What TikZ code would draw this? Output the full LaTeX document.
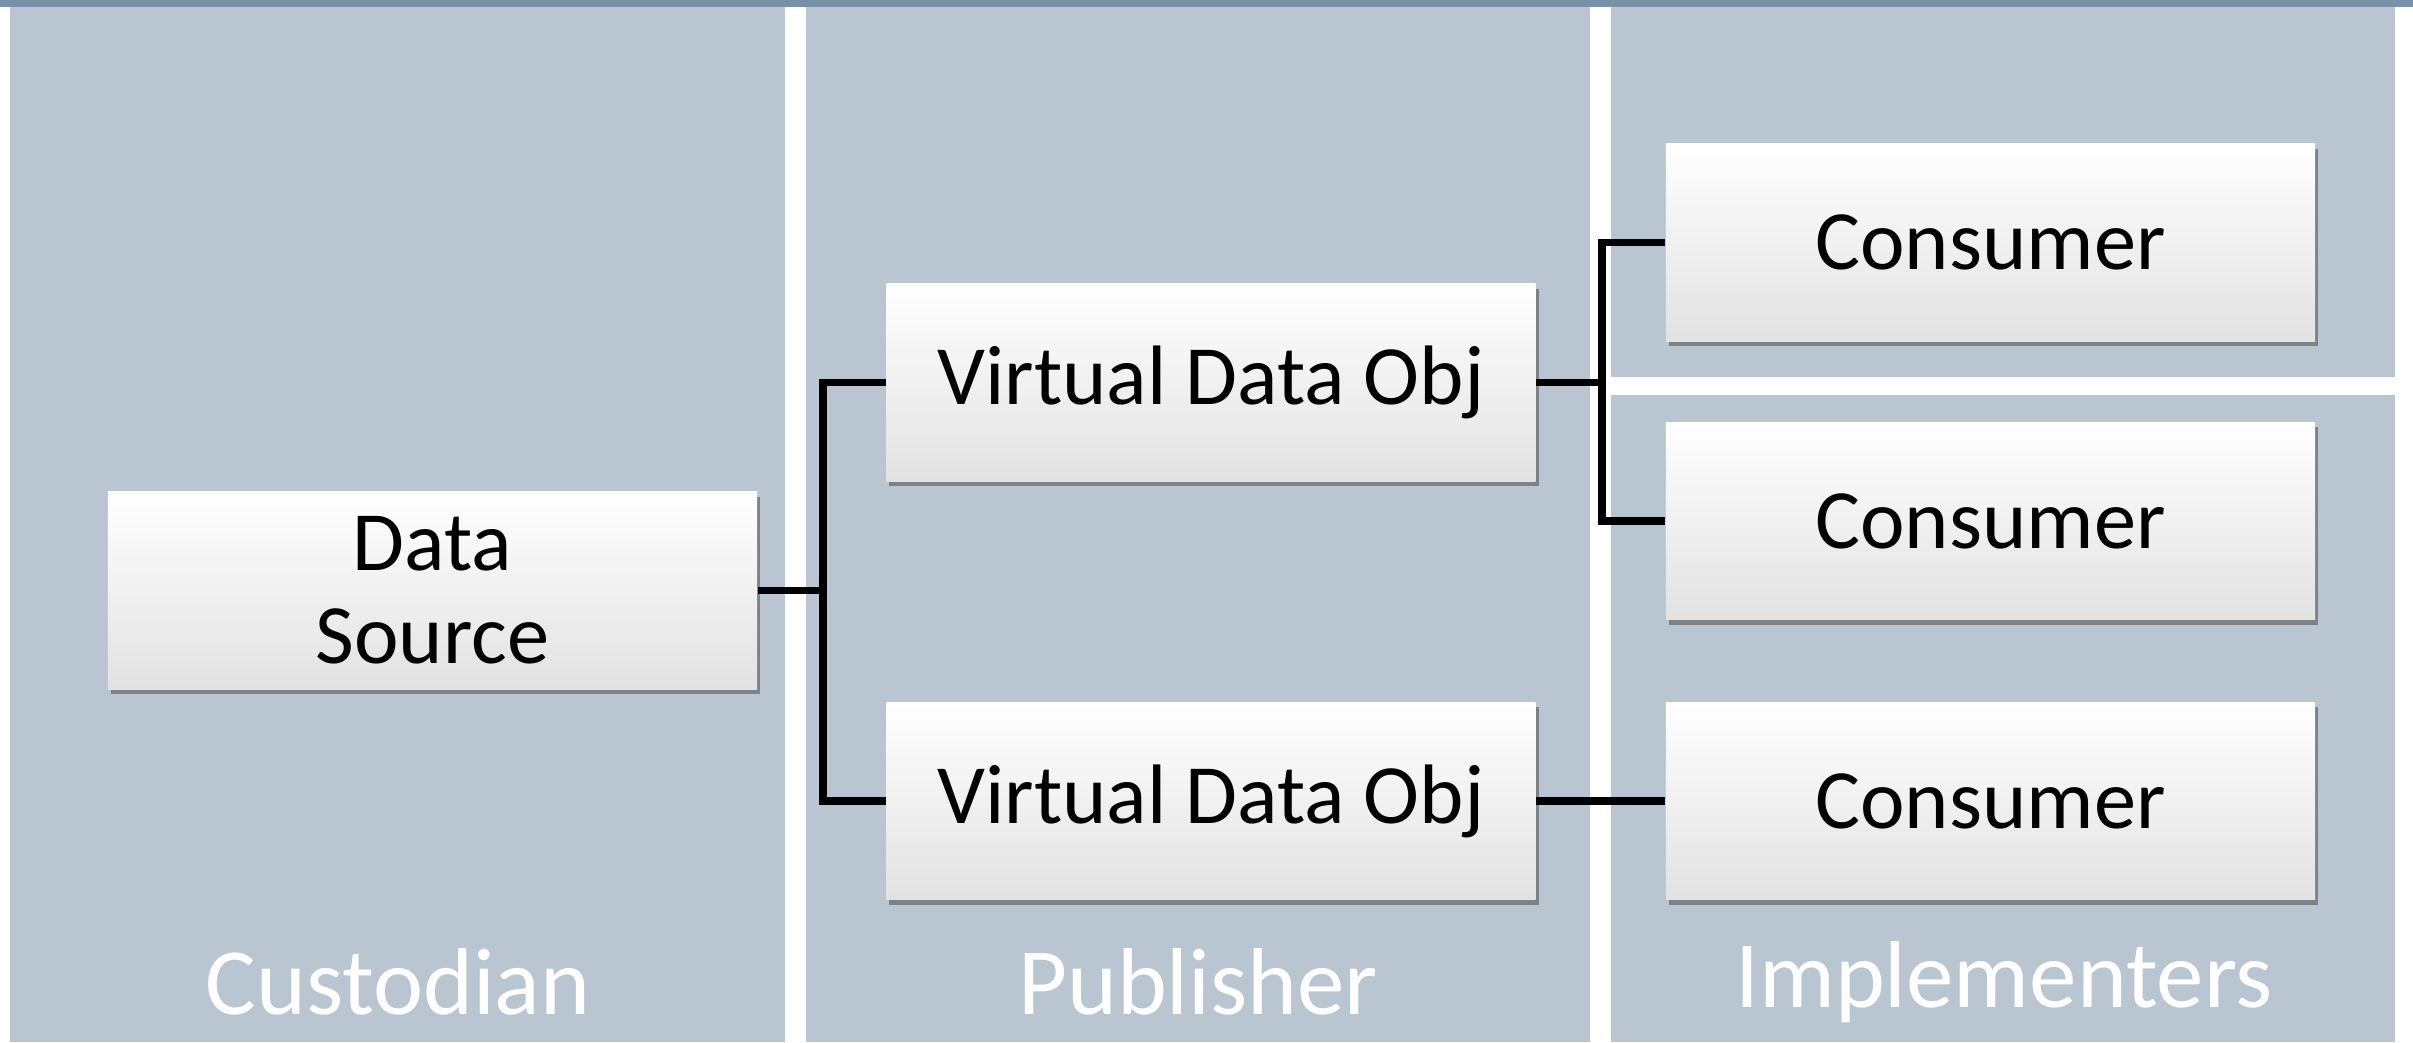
\documentclass[tikz,border=0pt]{standalone}
\usepackage{fontspec}
\setmainfont{Carlito}
\usetikzlibrary{shadows}
\definecolor{panelc}{RGB}{185,198,210}
\definecolor{topbarc}{RGB}{120,144,168}
\definecolor{boxbot}{RGB}{226,226,226}
\begin{document}
\begin{tikzpicture}[x=0.01cm,y=-0.01cm,
  panel/.style={fill=panelc, draw=none},
  card/.style={draw=none, top color=white, middle color=white, bottom color=boxbot,
    minimum width=6.49cm, minimum height=1.97cm, inner sep=0pt, align=center,
    font=\fontsize{24}{26.5}\selectfont,
    drop shadow={shadow xshift=0.03cm, shadow yshift=-0.05cm, opacity=0.5, fill=black!75}},
  lane/.style={text=white, font=\fontsize{27}{30}\selectfont, inner sep=0pt},
  link/.style={draw=black, line width=0.075cm}]
\useasboundingbox (0,0) rectangle (2413,1042);
\fill[white] (0,0) rectangle (2413,1042);
% top bar
\fill[topbarc] (0,0) rectangle (2413,7);
% panels
\path[panel] (10,7) rectangle (785,1042);
\path[panel] (806,7) rectangle (1590,1042);
\path[panel] (1611,7) rectangle (2395,377);
\path[panel] (1611,395) rectangle (2395,1042);
% lane labels
\node[lane] (lcust) at (398,982) {Custodian};
\node[lane] (lpub) at (1198,982) {Publisher};
\node[lane] (limpl) at (2004,982) {Implementers};
% boxes
\node[card] (ds) at (432.5,590.5) {Data\\Source};
\node[card] (v1) at (1211,382.5) {Virtual Data Obj};
\node[card] (v2) at (1211,801) {Virtual Data Obj};
\node[card] (c1) at (1990.5,242.5) {Consumer};
\node[card] (c2) at (1990.5,521) {Consumer};
\node[card] (c3) at (1990.5,801) {Consumer};
% connectors
\coordinate (j1) at (823,590.5);
\coordinate (j2) at (1602,382.5);
\draw[link] (ds.east) -- (j1);
\draw[link] (v1.west) -| (j1) |- (v2.west);
\draw[link] (v1.east) -- (j2);
\draw[link] (c1.west) -| (j2) |- (c2.west);
\draw[link] (v2.east) -- (c3.west);
\end{tikzpicture}
\end{document}
